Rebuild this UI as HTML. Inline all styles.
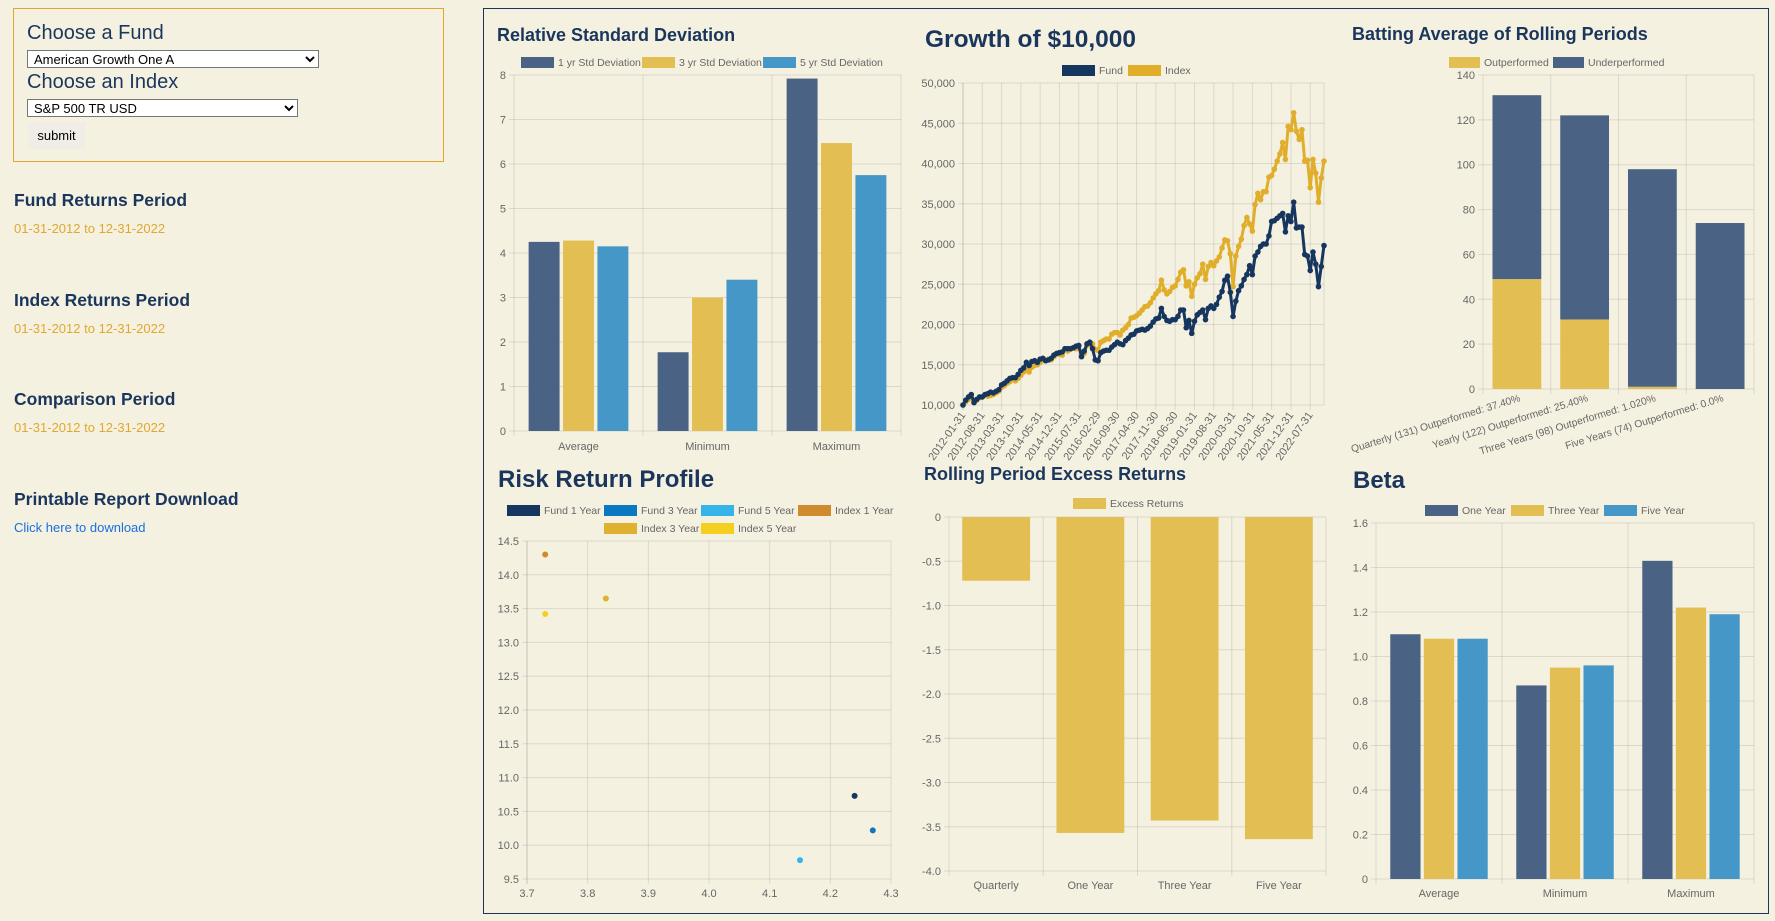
<!DOCTYPE html>
<html><head><meta charset="utf-8">
<style>
html,body{margin:0;padding:0;background:#F5F1E1;width:1775px;height:921px;overflow:hidden;font-family:"Liberation Sans",sans-serif;}
.abs{position:absolute;}
.h{color:#1B365D;font-weight:bold;font-size:17.5px;}
.date{color:#E0A82E;font-size:13px;}
select{position:absolute;font-family:"Liberation Sans",sans-serif;font-size:13px;height:18px;padding:0 2px;border:1px solid #767676;background:#fff;color:#000;}
svg text{font-family:"Liberation Sans",sans-serif;}
</style></head>
<body>
<div class="abs" style="left:13px;top:8px;width:431px;height:154px;border:1px solid #E0A82E;box-sizing:border-box;"></div>
<div class="abs h" style="left:27px;top:22px;font-weight:normal;font-size:20px;">Choose a Fund</div>
<select style="left:27px;top:50px;width:292px;"><option>American Growth One A</option></select>
<div class="abs h" style="left:27px;top:71px;font-weight:normal;font-size:20px;">Choose an Index</div>
<select style="left:27px;top:99px;width:271px;"><option>S&amp;P 500 TR USD</option></select>
<div class="abs" style="left:28px;top:122px;width:57px;height:27px;background:#EFEDE5;font-size:13px;line-height:27px;text-align:center;color:#000;">submit</div>

<div class="abs h" style="left:14px;top:190px;">Fund Returns Period</div>
<div class="abs date" style="left:14px;top:221px;">01-31-2012 to 12-31-2022</div>
<div class="abs h" style="left:14px;top:290px;">Index Returns Period</div>
<div class="abs date" style="left:14px;top:321px;">01-31-2012 to 12-31-2022</div>
<div class="abs h" style="left:14px;top:389px;">Comparison Period</div>
<div class="abs date" style="left:14px;top:420px;">01-31-2012 to 12-31-2022</div>
<div class="abs h" style="left:14px;top:489px;">Printable Report Download</div>
<div class="abs" style="left:14px;top:520px;font-size:13px;color:#1a6fe0;">Click here to download</div>

<div class="abs" style="left:483px;top:8px;width:1286px;height:906px;border:1px solid #1B365D;box-sizing:border-box;"></div>

<svg id="charts" class="abs" style="left:0;top:0" width="1775" height="921"></svg>

<script>
// ---- Relative Standard Deviation ----
const rsdCategories = ["Average","Minimum","Maximum"];
const rsdSeriesNames = ["1 yr Std Deviation","3 yr Std Deviation","5 yr Std Deviation"];
const rsd1yr = [4.25, 1.77, 7.92];
const rsd3yr = [4.28, 3.0, 6.47];
const rsd5yr = [4.15, 3.4, 5.75];
const rsdTicks = ["0","1","2","3","4","5","6","7","8"];

// ---- Growth of $10,000 ----
const growthLabels = ["2012-01-31","2012-08-31","2013-03-31","2013-10-31","2014-05-31","2014-12-31","2015-07-31","2016-02-29","2016-09-30","2017-04-30","2017-11-30","2018-06-30","2019-01-31","2019-08-31","2020-03-31","2020-10-31","2021-05-31","2021-12-31","2022-07-31"];
const growthTicks = ["10,000","15,000","20,000","25,000","30,000","35,000","40,000","45,000","50,000"];
const fundValues = [
10000,10600,11000,11300,10300,10700,11000,11000,11300,11400,11600,11500,
11700,11900,12500,12700,13000,13300,13400,13400,13800,14300,14600,15300,
14900,15400,15500,15300,15700,15800,15500,15600,15800,16200,16400,16500,
16600,17000,17000,17000,17100,17300,17400,16000,16700,17600,17800,17000,
15600,15500,16500,16700,16800,16800,17200,17500,17800,17600,17500,18000,
18300,18700,18800,19200,19300,19400,19300,19500,19800,20300,20700,20800,
22000,21000,20500,20400,20600,20600,21000,21800,21800,19600,20500,18900,
20400,21200,21500,21800,20600,22000,22300,22000,22500,23400,24100,25500,
26000,24000,21000,22900,24200,24800,25600,26200,27300,26200,28500,29000,
29700,30000,30000,31000,32800,32900,33200,33500,33800,31500,33500,32800,
35200,32000,32100,32100,28700,28500,26700,29000,27500,24700,27200,29800];
const indexValues = [
10000,10400,10700,10900,10300,10600,10900,11000,11200,11100,11200,11300,
11500,11700,12200,12400,12700,12900,13200,13000,13300,13700,14100,14500,
14100,14700,14900,15000,15300,15600,15500,15700,15600,16000,16400,16300,
16200,16900,16700,16900,17100,17000,17200,16200,16400,17400,17500,17600,
16900,16800,17800,18000,18200,18200,18800,19000,19000,18700,19300,19600,
20000,20800,20900,21100,21400,21800,22200,22300,22700,23300,23800,24200,
25500,24300,23800,24100,24600,24800,25600,26500,26800,24800,25300,23500,
25000,25800,26300,27500,25600,27200,27700,27300,27900,28400,29500,30500,
30400,28800,24700,28500,29700,30600,32300,33300,32500,31600,34900,36300,
35500,36500,36500,38300,38500,39300,40300,41200,42600,40500,44600,44200,
46300,44000,43000,44200,40300,40400,37000,40500,38800,35200,38200,40300];

// ---- Batting Average ----
const battingCategories = ["Quarterly (131) Outperformed: 37.40%","Yearly (122) Outperformed: 25.40%","Three Years (98) Outperformed: 1.020%","Five Years (74) Outperformed: 0.0%"];
const battingOut = [49, 31, 1, 0];
const battingUnder = [82, 91, 97, 74];
const battingTicks = ["0","20","40","60","80","100","120","140"];

// ---- Risk Return ----
const riskNames = ["Fund 1 Year","Fund 3 Year","Fund 5 Year","Index 1 Year","Index 3 Year","Index 5 Year"];
const riskX = [4.24, 4.27, 4.15, 3.73, 3.83, 3.73];
const riskY = [10.73, 10.22, 9.78, 14.3, 13.65, 13.42];
const riskXTicks = ["3.7","3.8","3.9","4.0","4.1","4.2","4.3"];
const riskYTicks = ["9.5","10.0","10.5","11.0","11.5","12.0","12.5","13.0","13.5","14.0","14.5"];

// ---- Excess Returns ----
const excessCategories = ["Quarterly","One Year","Three Year","Five Year"];
const excessValues = [-0.72, -3.57, -3.43, -3.64];
const excessTicks = ["-4.0","-3.5","-3.0","-2.5","-2.0","-1.5","-1.0","-0.5","0"];

// ---- Beta ----
const betaCategories = ["Average","Minimum","Maximum"];
const betaSeriesNames = ["One Year","Three Year","Five Year"];
const betaOne = [1.10, 0.87, 1.43];
const betaThree = [1.08, 0.95, 1.22];
const betaFive = [1.08, 0.96, 1.19];
const betaTicks = ["0","0.2","0.4","0.6","0.8","1.0","1.2","1.4","1.6"];

const NS = "http://www.w3.org/2000/svg";
const svg = document.getElementById('charts');
const NAVY = "#4A6384", YEL = "#E3BF53", BLUE = "#4597C8", GRID = "rgba(0,0,0,0.1)", TICK = "#666";
function mk(tag, attrs, parent, txt){
  const e = document.createElementNS(NS, tag);
  for (const k in attrs) e.setAttribute(k, attrs[k]);
  if (txt !== undefined) e.textContent = txt;
  (parent || svg).appendChild(e);
  return e;
}
function group(name){
  const g = mk('g', {});
  
  
  return g;
}
function title(g, x, y, size, txt, name){
  const t = mk('text', {x:x, y:y, 'font-size':size, fill:'#1B365D', 'font-weight':'bold'}, g, txt);
  
  
}
function legendItem(g, x, y, w, color, label, name){
  const r = mk('rect', {x:x, y:y-5, width:w, height:11, fill:color}, g);
  
  
  mk('text', {x:x+w+4, y:y+4, 'font-size':10.5, fill:TICK}, g, label);
}
function yAxis(g, x0, x1, yTop, yBot, ticks, vmin, vmax){
  const ys = v => yBot - (v - vmin) / (vmax - vmin) * (yBot - yTop);
  ticks.forEach(t => {
    const v = parseFloat(t.replace(/,/g,''));
    const y = ys(v);
    mk('line', {x1:x0-5, x2:x1, y1:y, y2:y, stroke:GRID, 'stroke-width':1}, g);
    const tx = mk('text', {x:x0-8, y:y+4, 'font-size':11, fill:TICK, 'text-anchor':'end'}, g, t);
    
    
  });
  mk('line', {x1:x0, x2:x0, y1:yTop, y2:yBot+5, stroke:GRID}, g);
  return ys;
}
function bandGrid(g, x0, x1, yTop, yBot, n){
  const bw = (x1 - x0) / n;
  for (let i = 1; i <= n; i++) mk('line', {x1:x0+i*bw, x2:x0+i*bw, y1:yTop, y2:yBot+5, stroke:GRID}, g);
  return bw;
}
function groupedBars(g, x0, x1, ys, cats, series, colors, labelY, barName){
  const bw = (x1 - x0) / cats.length;
  const inner = bw * 0.8 / series.length;
  cats.forEach((c, i) => {
    series.forEach((s, j) => {
      const bx = x0 + i*bw + bw*0.1 + j*inner + inner*0.05;
      const y0 = ys(0), y1 = ys(s[i]);
      const r = mk('rect', {x:bx, y:Math.min(y0,y1), width:inner*0.9, height:Math.abs(y1-y0), fill:colors[j]}, g);
      
      
    });
    const t = mk('text', {x:x0+i*bw+bw/2, y:labelY, 'font-size':11, fill:TICK, 'text-anchor':'middle'}, g, c);
    
    
  });
}

// ===== Chart 1: RSD =====
(function(){
  const g = group('relative-std-dev-chart');
  title(g, 497, 41, 18, 'Relative Standard Deviation', 'rsd-title');
  legendItem(g, 521, 62, 33, NAVY, rsdSeriesNames[0], 'legend-1yr');
  legendItem(g, 642, 62, 33, YEL, rsdSeriesNames[1], 'legend-3yr');
  legendItem(g, 763, 62, 33, BLUE, rsdSeriesNames[2], 'legend-5yr');
  const ys = yAxis(g, 514, 901, 75, 431, rsdTicks, 0, 8);
  bandGrid(g, 514, 901, 75, 431, 3);
  groupedBars(g, 514, 901, ys, rsdCategories, [rsd1yr, rsd3yr, rsd5yr], [NAVY, YEL, BLUE], 450, 'rsd-bar');
})();

// ===== Chart 2: Growth =====
(function(){
  const g = group('growth-chart');
  title(g, 925, 47, 24.5, 'Growth of $10,000', 'growth-title');
  legendItem(g, 1062, 70, 33, '#17365F', 'Fund', 'legend-fund');
  legendItem(g, 1128, 70, 33, '#E0AE2A', 'Index', 'legend-index');
  const x0 = 963, x1 = 1324, yTop = 83, yBot = 405;
  const ys = yAxis(g, x0, x1, yTop, yBot, growthTicks, 10000, 50000);
  const n = fundValues.length;
  const xs = i => x0 + i * (x1 - x0) / (n - 1);
  growthLabels.forEach((lab, k) => {
    const x = xs(k*7);
    mk('line', {x1:x, x2:x, y1:yTop, y2:yBot+5, stroke:GRID}, g);
    const t = mk('text', {x:x+3, y:yBot+10, 'font-size':11, fill:TICK, 'text-anchor':'end', transform:`rotate(-55 ${x+3} ${yBot+10})`}, g, lab);
    
    
  });
  mk('line', {x1:x1, x2:x1, y1:yTop, y2:yBot, stroke:GRID}, g);
  [[indexValues, '#E0AE2A', 'index-line'], [fundValues, '#17365F', 'fund-line']].forEach(([vals, col, nm]) => {
    const pts = vals.map((v, i) => xs(i).toFixed(1) + ',' + ys(v).toFixed(1)).join(' ');
    const pl = mk('polyline', {points:pts, fill:'none', stroke:col, 'stroke-width':3, 'stroke-linejoin':'round'}, g);
    
    
    vals.forEach((v, i) => mk('circle', {cx:xs(i), cy:ys(v), r:2.8, fill:col}, g));
  });
})();

// ===== Chart 3: Batting =====
(function(){
  const g = group('batting-average-chart');
  title(g, 1352, 40, 18, 'Batting Average of Rolling Periods', 'batting-title');
  legendItem(g, 1449, 62, 31, YEL, 'Outperformed', 'legend-outperformed');
  legendItem(g, 1553, 62, 31, NAVY, 'Underperformed', 'legend-underperformed');
  const x0 = 1483, x1 = 1754, yTop = 75, yBot = 389;
  const ys = yAxis(g, x0, x1, yTop, yBot, battingTicks, 0, 140);
  const bw = bandGrid(g, x0, x1, yTop, yBot, 4);
  battingCategories.forEach((c, i) => {
    const bx = x0 + i*bw + bw*0.14, w = bw*0.72;
    const r1 = mk('rect', {x:bx, y:ys(battingOut[i]), width:w, height:ys(0)-ys(battingOut[i]), fill:YEL}, g);
    
    
    const top = battingOut[i] + battingUnder[i];
    const r2 = mk('rect', {x:bx, y:ys(top), width:w, height:ys(battingOut[i])-ys(top), fill:NAVY}, g);
    
    
    const cx = x0 + i*bw + bw/2 + 4, cy = yBot + 12;
    const t = mk('text', {x:cx, y:cy, 'font-size':10.3, fill:TICK, 'text-anchor':'end', transform:`rotate(-17 ${cx} ${cy})`}, g, c);
    
    
  });
})();

// ===== Chart 4: Risk Return =====
(function(){
  const g = group('risk-return-chart');
  title(g, 498, 487, 24, 'Risk Return Profile', 'risk-title');
  const cols = ['#17365F', '#0A78C0', '#36B4EA', '#D08C2C', '#E0B030', '#F5CF20'];
  const lx = [507, 604, 701, 798, 604, 701], ly = [510, 510, 510, 510, 528, 528];
  riskNames.forEach((nm, i) => legendItem(g, lx[i], ly[i], 33, cols[i], nm, 'legend-' + nm.toLowerCase().replace(/ /g,'-')));
  const x0 = 527, x1 = 891, yTop = 541, yBot = 879;
  const ys = yAxis(g, x0, x1, yTop, yBot, riskYTicks, 9.5, 14.5);
  const xsc = v => x0 + (v - 3.7) / 0.6 * (x1 - x0);
  riskXTicks.forEach(t => {
    const x = xsc(parseFloat(t));
    mk('line', {x1:x, x2:x, y1:yTop, y2:yBot+5, stroke:GRID}, g);
    const tx = mk('text', {x:x, y:yBot+18, 'font-size':11, fill:TICK, 'text-anchor':'middle'}, g, t);
    
    
  });
  riskX.forEach((v, i) => {
    const c = mk('circle', {cx:xsc(v), cy:ys(riskY[i]), r:3, fill:cols[i]}, g);
    
    
  });
})();

// ===== Chart 5: Excess Returns =====
(function(){
  const g = group('excess-returns-chart');
  title(g, 924, 480, 18, 'Rolling Period Excess Returns', 'excess-title');
  legendItem(g, 1073, 503, 33, YEL, 'Excess Returns', 'legend-excess');
  const x0 = 949, x1 = 1326, yTop = 517, yBot = 871;
  const ys = yAxis(g, x0, x1, yTop, yBot, excessTicks, -4, 0);
  const bw = bandGrid(g, x0, x1, yTop, yBot, 4);
  excessCategories.forEach((c, i) => {
    const r = mk('rect', {x:x0+i*bw+bw*0.14, y:ys(0), width:bw*0.72, height:ys(excessValues[i])-ys(0), fill:YEL}, g);
    
    
    const t = mk('text', {x:x0+i*bw+bw/2, y:889, 'font-size':11, fill:TICK, 'text-anchor':'middle'}, g, c);
    
    
  });
})();

// ===== Chart 6: Beta =====
(function(){
  const g = group('beta-chart');
  title(g, 1353, 488, 24, 'Beta', 'beta-title');
  legendItem(g, 1425, 510, 33, NAVY, betaSeriesNames[0], 'legend-one-year');
  legendItem(g, 1511, 510, 33, YEL, betaSeriesNames[1], 'legend-three-year');
  legendItem(g, 1604, 510, 33, BLUE, betaSeriesNames[2], 'legend-five-year');
  const x0 = 1376, x1 = 1754, yTop = 523, yBot = 879;
  const ys = yAxis(g, x0, x1, yTop, yBot, betaTicks, 0, 1.6);
  bandGrid(g, x0, x1, yTop, yBot, 3);
  groupedBars(g, x0, x1, ys, betaCategories, [betaOne, betaThree, betaFive], [NAVY, YEL, BLUE], 897, 'beta-bar');
})();
</script>
</body></html>
